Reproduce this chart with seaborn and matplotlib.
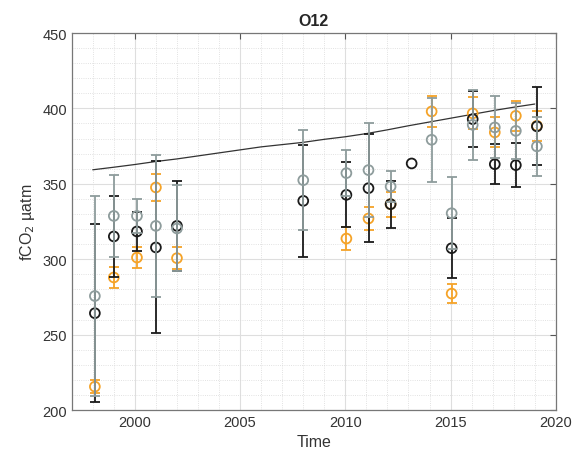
# Series de fCO2 en la estación O12
import numpy as np
import pandas as pd
import matplotlib
matplotlib.use("Agg")
import matplotlib.pyplot as plt
from matplotlib.ticker import MultipleLocator
import seaborn as sns

# Datos
# -----------------------------------------------------------------------
black_t = [1998.1, 1999.0, 2000.1, 2001.0, 2002.0, 2008.0, 2010.05, 2011.1,
           2012.15, 2013.15, 2015.05, 2016.05, 2017.1, 2018.1, 2019.1]
black_y = [264.2, 315.1, 318.4, 307.8, 322.1, 338.7, 342.7, 347.1,
           336.5, 363.5, 307.3, 392.9, 363.0, 362.4, 388.1]
black_e = [59.0, 27.0, 12.7, 57.0, 30.0, 37.0, 21.6, 36.0,
           15.6, 0.0, 20.0, 18.8, 13.3, 14.7, 25.8]

gray_t = [1998.1, 1999.0, 2000.1, 2001.0, 2002.0, 2008.0, 2010.05, 2011.1,
          2012.15, 2014.1, 2015.05, 2016.05, 2017.1, 2018.1, 2019.1]
gray_y = [275.6, 328.7, 328.7, 322.1, 320.4, 352.4, 357.1, 359.1,
          348.2, 379.2, 330.5, 389.1, 387.4, 385.1, 374.8]
gray_e = [66.0, 27.3, 11.0, 47.0, 28.5, 33.0, 15.0, 31.0,
          10.0, 28.0, 23.7, 23.2, 20.6, 18.4, 19.5]

orange_t = [1998.1, 1999.0, 2000.1, 2001.0, 2002.0, 2010.05, 2011.1,
            2012.15, 2014.1, 2015.05, 2016.05, 2017.1, 2018.1, 2019.1]
orange_y = [215.5, 287.9, 301.1, 347.6, 300.7, 313.7, 327.0,
            336.5, 398.0, 277.2, 396.7, 384.1, 395.1, 388.5]
orange_e = [4.5, 6.8, 7.0, 9.0, 7.2, 7.7, 7.7,
            8.4, 10.5, 6.3, 10.6, 10.0, 10.0, 10.0]

atm_t = list(range(1998, 2020))
atm_y = [359.3, 361.0, 362.8, 364.8, 366.5, 368.5, 370.5, 372.5, 374.5, 376.0,
         377.5, 379.5, 381.2, 383.3, 385.8, 388.5, 391.0, 393.5, 396.0, 398.5,
         400.8, 402.9]

# Estilo
# -----------------------------------------------------------------------
sns.set_style("white")
plt.rcParams['font.family'] = ['Liberation Sans', 'DejaVu Sans']

c_black = '#1a1a1a'
c_gray = '#8e9c9c'
c_orange = '#f5a328'

fig = plt.figure(figsize=(5.76, 4.64), dpi=100)
ax = fig.add_axes([0.1245, 0.1142, 0.8405, 0.8125])

# Línea atmosférica
sns.lineplot(x=atm_t, y=atm_y, color='#333333', linewidth=0.9, ax=ax, zorder=2)

# Series con barras de error
series = [
    (orange_t, orange_y, orange_e, c_orange),
    (black_t, black_y, black_e, c_black),
    (gray_t, gray_y, gray_e, c_gray),
]
for i, (t, y, e, c) in enumerate(series):
    df = pd.DataFrame({'t': t, 'y': y, 'e': e})
    con_error = df[df['e'] > 0]  # sin barra donde no hay error
    ax.errorbar(con_error['t'], con_error['y'], yerr=con_error['e'], fmt='none',
                ecolor=c, elinewidth=1.3, capsize=3.5, capthick=1.3, zorder=3 + i)
    sns.scatterplot(data=df, x='t', y='y', ax=ax, marker='o', s=50,
                    facecolor='none', edgecolor=c, linewidth=1.3, zorder=3 + i)

# Ejes
ax.set_xlim(1997, 2020)
ax.set_ylim(200, 450)
ax.xaxis.set_major_locator(MultipleLocator(5))
ax.xaxis.set_minor_locator(MultipleLocator(1))
ax.yaxis.set_major_locator(MultipleLocator(50))
ax.yaxis.set_minor_locator(MultipleLocator(10))

ax.grid(which='major', color='#dedede', linewidth=0.8, linestyle='-')
ax.grid(which='minor', color='#d8d8d8', linewidth=0.6, linestyle=':')
ax.set_axisbelow(True)

ax.tick_params(which='major', direction='in', length=4, color='#555555',
               top=True, right=True, labelsize=10.5, labelcolor='#333333')
ax.tick_params(which='minor', length=0)
for s in ax.spines.values():
    s.set_color('#777777')
    s.set_linewidth(0.9)

ax.set_title('O12', fontsize=11.5, fontweight='bold', pad=6)
ax.set_xlabel('Time', fontsize=11.5, color='#333333')
ax.set_ylabel('fCO$_2$ µatm', fontsize=11.5, color='#333333')

fig.savefig('out.png', dpi=100)
